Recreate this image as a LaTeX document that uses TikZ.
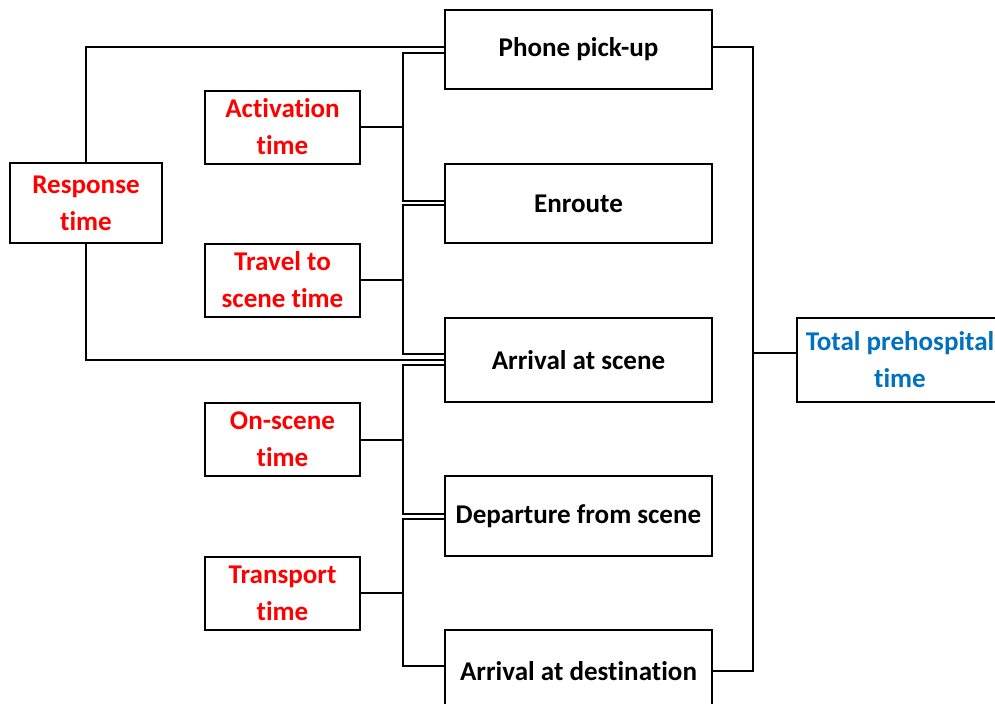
\documentclass[tikz,border=0pt]{standalone}
\usepackage{fontspec}
\setmainfont{Carlito}[RawFeature=-liga,RawFeature=-clig,RawFeature=-calt,RawFeature=-dlig]
\usetikzlibrary{calc}
\definecolor{redtxt}{HTML}{FF0000}
\definecolor{bluetxt}{HTML}{0070C0}
\newcommand{\tiX}{t\kern0pt i}
\begin{document}
\begin{tikzpicture}[x=0.75pt,y=-0.75pt,
  every node/.style={inner sep=0pt,outer sep=0pt,align=center,font=\fontsize{20.3}{27.75}\selectfont\bfseries},
  box/.style={draw,line width=1.5pt,minimum width=200.25pt,minimum height=59.5pt},
  redbox/.style={draw,line width=1.5pt,minimum width=116.25pt,minimum height=54.75pt,text=redtxt},
  conn/.style={line width=1.5pt}]
\useasboundingbox (0,0) rectangle (995,703);
% right column
\node[box] (phone) at (578.5,49.5) {Phone pick-up};
\node[box] (enroute) at (578.5,203.5) {Enroute};
\node[box,minimum height=63pt] (arr) at (578.5,360) {Arrival at scene};
\node[box] (dep) at (578.5,516) {Departure from scene};
\node[box,minimum height=61.5pt] (dest) at (578.5,671) {Arrival at des\tiX nation};
% red boxes
\node[redbox] (act) at (282.5,127) {Activa\tiX on\\\tiX me};
\node[redbox] (trav) at (282.5,280) {Travel to\\scene \tiX me};
\node[redbox] (ons) at (282.5,439.5) {On-scene\\\tiX me};
\node[redbox] (trans) at (282.5,593) {Transport\\\tiX me};
\node[redbox,minimum width=114pt,minimum height=60pt] (resp) at (86,203) {Response\\\tiX me};
\node[draw,line width=1.5pt,minimum width=154.5pt,minimum height=63pt,text=bluetxt] (total) at (900,360) {Total prehospital\\\tiX me};
\coordinate (bx) at (403,0);
\coordinate (rx) at (753,0);
% response connectors
\draw[conn] (resp.north) |- ($(phone.west)+(0,-2.5)$);
\draw[conn] (resp.south) |- (arr.west);
% activation bracket
\draw[conn] ($(phone.west)+(0,3.5)$) -| ($(bx|-enroute.west)+(0,-3)$) -- ($(enroute.west)+(0,-3)$);
\draw[conn] (act.east) -- (act.east-|bx);
% travel bracket
\draw[conn] ($(enroute.west)+(0,1.5)$) -| ($(bx|-arr.west)+(0,-6.5)$) -- ($(arr.west)+(0,-6.5)$);
\draw[conn] (trav.east) -- (trav.east-|bx);
% on-scene bracket
\draw[conn] ($(arr.west)+(0,4.5)$) -| ($(bx|-dep.west)+(0,-2)$) -- ($(dep.west)+(0,-2)$);
\draw[conn] (ons.east) -- (ons.east-|bx);
% transport bracket
\draw[conn] ($(dep.west)+(0,3)$) -| ($(bx|-dest.west)+(0,-5)$) -- ($(dest.west)+(0,-5)$);
\draw[conn] (trans.east) -- (trans.east-|bx);
% right side
\draw[conn] ($(phone.east)+(0,-2.5)$) -| (rx|-dest.east) -- (dest.east);
\draw[conn] ($(total.west)+(0,-7)$) -- ($(total.west-|rx)+(0,-7)$);
\end{tikzpicture}
\end{document}
